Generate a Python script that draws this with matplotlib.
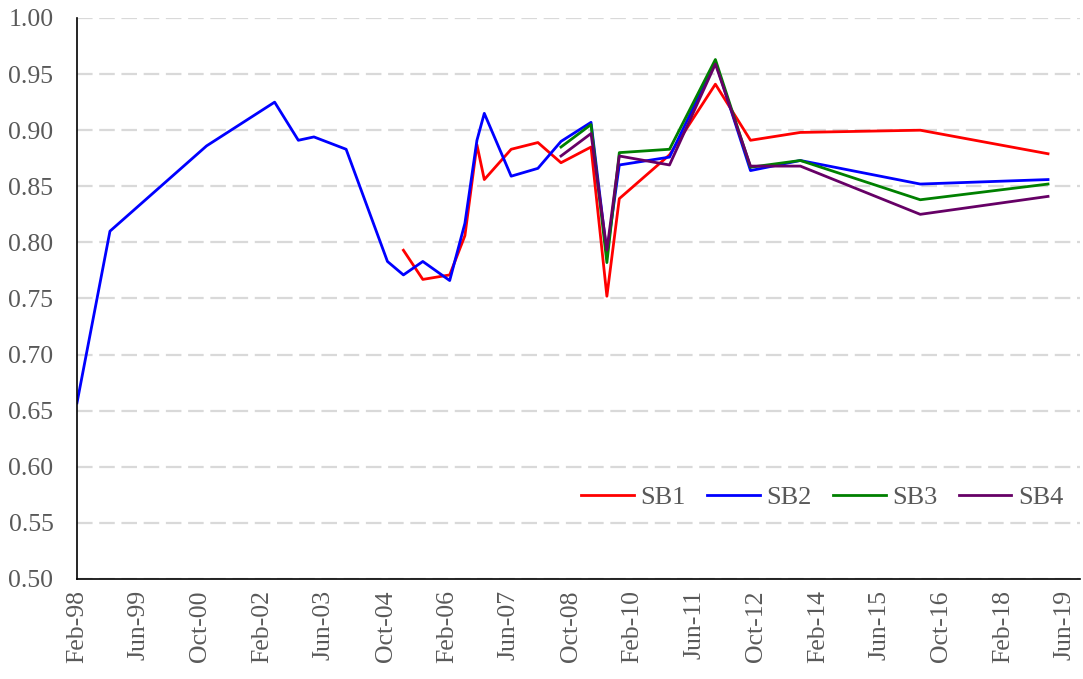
import matplotlib
matplotlib.use('Agg')
import matplotlib.pyplot as plt
import matplotlib.dates as mdates
from datetime import date, timedelta

plt.rcParams['font.family'] = ['Liberation Serif', 'DejaVu Serif']

# x values are months counted from Feb-1998
def mdate(m):
    whole = int(m)
    y, mo = divmod(1 + whole, 12)
    return date(1998 + y, mo + 1, 1) + timedelta(days=(m - whole) * 30.4)

sb2_m = [0, 8.6, 33.6, 51.3, 57.4, 61.5, 69.8, 80.5, 84.6, 89.7, 96.6, 100.6, 103.7, 105.6,
         112.6, 119.5, 125.5, 133.3, 137.4, 140.6, 153.6, 165.5, 174.6, 187.5, 218.6, 251.7]
sb2_v = [0.657, 0.810, 0.886, 0.925, 0.891, 0.894, 0.883, 0.783, 0.771, 0.783, 0.766, 0.817,
         0.891, 0.915, 0.859, 0.866, 0.890, 0.907, 0.790, 0.869, 0.876, 0.961, 0.864, 0.873,
         0.852, 0.856]

sb1_m = [84.6, 89.7, 96.6, 100.6, 103.7, 105.6, 112.6, 119.5, 125.5, 133.3, 137.4, 140.6,
         153.6, 165.5, 174.6, 187.5, 218.6, 251.7]
sb1_v = [0.793, 0.767, 0.771, 0.806, 0.887, 0.856, 0.883, 0.889, 0.871, 0.885, 0.752, 0.839,
         0.878, 0.941, 0.891, 0.898, 0.900, 0.879]

sb3_m = [125.5, 133.3, 137.4, 140.6, 153.6, 165.5, 174.6, 187.5, 218.6, 251.7]
sb3_v = [0.885, 0.905, 0.782, 0.880, 0.883, 0.963, 0.867, 0.873, 0.838, 0.852]

sb4_m = [125.5, 133.3, 137.4, 140.6, 153.6, 165.5, 174.6, 187.5, 218.6, 251.7]
sb4_v = [0.877, 0.897, 0.793, 0.877, 0.869, 0.959, 0.868, 0.868, 0.825, 0.841]

tick_m = list(range(0, 257, 16))

fig = plt.figure(figsize=(10.83, 6.79), dpi=100)
ax = fig.add_axes([0.0711, 0.1473, 0.9261, 0.8262])

for m, v, c, lab in [(sb1_m, sb1_v, '#ff0000', 'SB1'), (sb2_m, sb2_v, '#0000ff', 'SB2'),
                     (sb3_m, sb3_v, '#008000', 'SB3'), (sb4_m, sb4_v, '#660066', 'SB4')]:
    ax.plot([mdate(x) for x in m], v, color=c, lw=2, label=lab)

ax.set_ylim(0.5, 1.0)
ax.set_yticks([0.5 + 0.05 * i for i in range(11)])
ax.yaxis.set_major_formatter(plt.FuncFormatter(lambda v, p: f'{v:.2f}'))
ax.set_xlim(mdate(0), mdate(260))
ax.set_xticks([mdate(m) for m in tick_m])
ax.xaxis.set_major_formatter(mdates.DateFormatter('%b-%y'))
ax.grid(axis='y', color='#d9d9d9', lw=1.6, dashes=(7, 3))
ax.set_axisbelow(True)
for s in ['top', 'right']:
    ax.spines[s].set_visible(False)
ax.spines['left'].set_linewidth(1.2)
ax.spines['bottom'].set_linewidth(1.2)
ax.tick_params(length=0, labelsize=18.5, colors='#595959')
ax.tick_params(axis='y', pad=17)
ax.tick_params(axis='x', labelrotation=90, pad=8)

ax.legend(loc='center', bbox_to_anchor=(0.743, 0.146), ncol=4, frameon=False,
          fontsize=19, labelcolor='#595959', handlelength=2.0, columnspacing=0.8,
          handletextpad=0.25)

fig.savefig('out.png', dpi=100)
